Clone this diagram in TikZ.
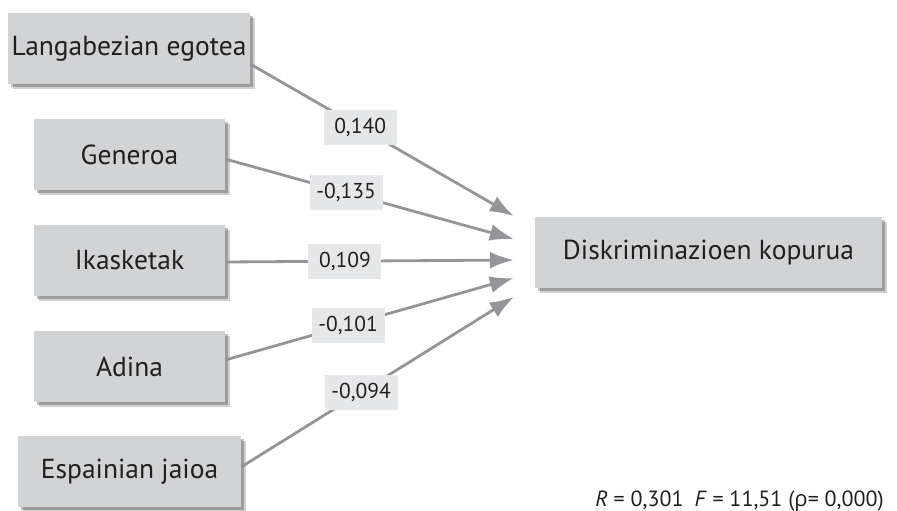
\documentclass[tikz,border=0pt]{standalone}
\usepackage{fontspec}
\setmainfont{PT Sans}
\newfontfamily\grk{Open Sans}
\usetikzlibrary{arrows.meta,shadows,calc}
\definecolor{boxgray}{HTML}{D1D3D4}
\definecolor{lblgray}{HTML}{E6E7E8}
\definecolor{linegray}{HTML}{939598}
\definecolor{txt}{HTML}{231F20}
\tikzset{
  varbox/.style={fill=boxgray, inner sep=0pt, text=txt, font=\fontsize{27.5}{30}\selectfont,
    minimum height=71pt,
    general shadow={shadow xshift=5pt,shadow yshift=-5pt,opacity=.18,fill=black},
    general shadow={shadow xshift=3pt,shadow yshift=-3pt,opacity=.25,fill=black}},
  coef/.style={fill=lblgray, text=txt, inner sep=0pt, minimum width=73pt, minimum height=35pt,
    font=\fontsize{21.5}{24}\selectfont},
  link/.style={draw=linegray, line width=2.8pt, -{Latex[length=24pt,width=17pt]}},
}
\begin{document}
\begin{tikzpicture}[x=1pt,y=-1pt]
\useasboundingbox (0,0) rectangle (897,511);
\node[varbox, minimum width=242pt] (L) at (129,48.5) {Langabezian egotea};
\node[varbox, minimum width=191pt] (G) at (129.5,154.5) {Generoa};
\node[varbox, minimum width=191pt] (I) at (129.5,260.5) {Ikasketak};
\node[varbox, minimum width=191pt] (A) at (129.5,366.5) {Adina};
\node[varbox, minimum width=223pt] (E) at (129.5,471.5) {Espainian jaioa};
\node[varbox, minimum width=347pt] (T) at (708.5,252.5) {Diskriminazioen kopurua};
\coordinate (t1) at ($(T.west)+(-21,-36.5)$);
\coordinate (t2) at ($(T.west)+(-21,-13.5)$);
\coordinate (t3) at ($(T.west)+(-21,7.5)$);
\coordinate (t4) at ($(T.west)+(-21,25.5)$);
\coordinate (t5) at ($(T.west)+(-21,44.5)$);
\draw[link] ($(L.east)+(0,15.5)$) -- node[coef, pos=0.417] {0,140} (t1);
\draw[link] ($(G.east)+(0,4.5)$) -- node[coef, pos=0.419] {-0,135} (t2);
\draw[link] ($(I.east)+(0,1.5)$) -- node[coef, pos=0.415] {0,109} (t3);
\draw[link] ($(A.east)+(0,-6.5)$) -- node[coef, pos=0.426] {-0,101} (t4);
\draw[link] ($(E.east)+(0,-4.5)$) -- node[coef, pos=0.44] {-0,094} (t5);
\node[anchor=base east, text=txt, font=\fontsize{22}{24}\selectfont, inner sep=0pt] (stats) at (884,506)
  {\textit{R} = 0,301\enspace\textit{F} = 11,51 ({\grk ρ}= 0,000)};
\end{tikzpicture}
\end{document}
